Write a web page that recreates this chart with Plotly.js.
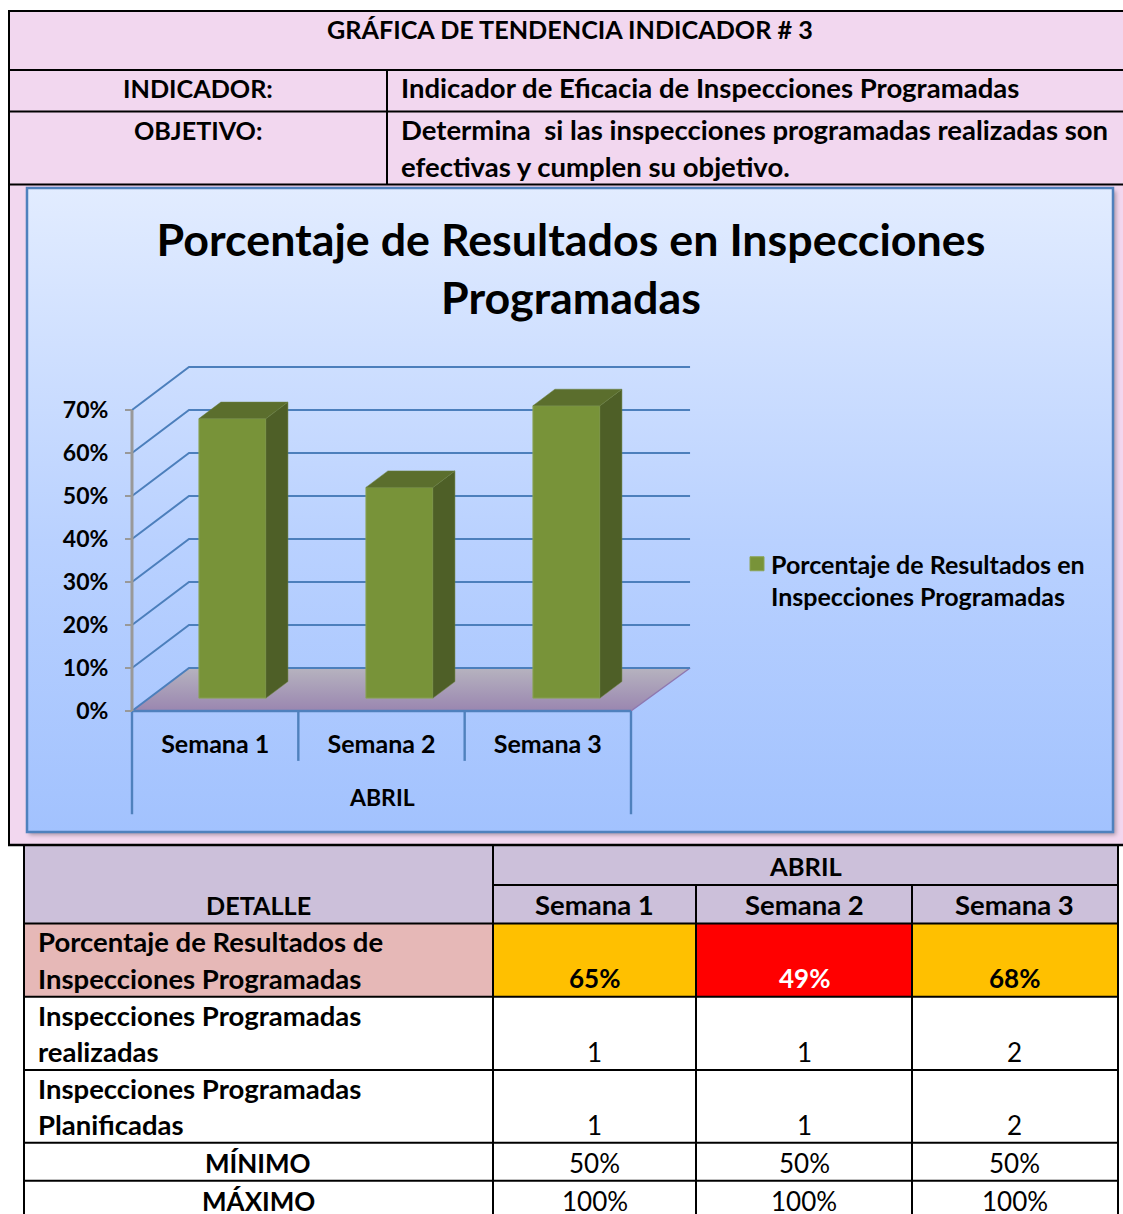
<!DOCTYPE html>
<html><head><meta charset="utf-8">
<script src="https://cdn.plot.ly/plotly-3.0.1.min.js"></script>
<style>html,body{margin:0;padding:0;background:#fff;overflow:hidden}#g{width:1123px;height:1214px}</style>
</head><body><div id="g"></div>
<script>
// ---- data ----
const semanas = ['Semana 1','Semana 2','Semana 3'];
const porcentajes = [0.65,0.49,0.68];
const realizadas = ['1','1','2'];
const planificadas = ['1','1','2'];
const minimos = ['50%','50%','50%'];
const maximos = ['100%','100%','100%'];
const yTicks = [0,0.1,0.2,0.3,0.4,0.5,0.6,0.7];
const serieNombre = 'Porcentaje de Resultados en<br>Inspecciones Programadas';
const tituloGrafico = 'Porcentaje de Resultados en Inspecciones<br>Programadas';
const mes = 'ABRIL';
const celdasColor = ['#ffc000','#ff0000','#ffc000'];
const celdasTexto = ['#000000','#ffffff','#000000'];

// ---- page helpers ----
const W=1123,H=1214, FONT='Lato, Carlito, sans-serif';
const px=x=>x/W, py=y=>1-y/H;
const rect=(x0,y0,x1,y1,fill)=>({type:'rect',xref:'paper',yref:'paper',x0:px(x0),x1:px(x1),y0:py(y0),y1:py(y1),fillcolor:fill,line:{width:0},layer:'below'});
const line=(x0,y0,x1,y1,w,c)=>({type:'line',xref:'paper',yref:'paper',x0:px(x0),x1:px(x1),y0:py(y0),y1:py(y1),line:{color:c||'#000',width:w||2},layer:'below'});
const txt=(t,x,y,size,o,weight,color)=>Object.assign({text:t,xref:'paper',yref:'paper',x:px(x),y:py(y),showarrow:false,xanchor:'center',yanchor:'middle',
  font:{family:FONT,size:size||26,color:color||'#000',weight:weight||700},borderpad:0},o||{});
const left={xanchor:'left'};

// ---- 3D geometry in axis units ----
const xMax=3.355, yMax=0.8, yMin=-0.24, padX=0.03, padY=0.01;
const unitX=499/3, unitY=430;
const wallDx=0.3427, wallDy=0.1;
const barW=0.403, barC=0.604, barStep=1.004, barBase=0.03, barDx=0.132, barDy=0.0384;
const barX=semanas.map((_,i)=>i*barStep+barC);
const xRange=[-padX,xMax+padX], yRange=[yMin-padY,yMax+padY];

const gx=[],gy=[];
yTicks.forEach(v=>{gx.push(0,wallDx,xMax,null);gy.push(v,v+wallDy,v+wallDy,null);});
const sx=[],sy=[],tx=[],ty=[];
porcentajes.forEach((v,i)=>{
  const l=barX[i]-barW/2,r=barX[i]+barW/2,top=barBase+v;
  sx.push(r,r+barDx,r+barDx,r,r,null); sy.push(barBase,barBase+barDy,top+barDy,top,barBase,null);
  tx.push(l,r,r+barDx,l+barDx,l,null); ty.push(top,top,top+barDy,top+barDy,top,null);
});

const base={type:'scatter',mode:'lines',xaxis:'x',yaxis:'y',showlegend:false,hoverinfo:'skip'};
const traces=[
 Object.assign({},base,{x:[0,3,xMax,wallDx,0],y:[0,0,wallDy,wallDy,0],fill:'toself',line:{width:0},
   fillgradient:{type:'vertical',colorscale:[[0,'#9a86b0'],[1,'#b6b3bf']]}}),
 Object.assign({},base,{x:[3,xMax],y:[0,wallDy],line:{color:'#8e78b0',width:1.5}}),
 Object.assign({},base,{x:gx,y:gy,line:{color:'#4c7fbc',width:2}}),
 Object.assign({},base,{x:[0,0,null,1,1,null,2,2,null,3,3,null,0,3],y:[0,yMin,null,0,-0.116,null,0,-0.116,null,0,yMin,null,0,0],line:{color:'#4f81bd',width:2.4}}),
 Object.assign({},base,{x:[0,0],y:[0,0.7],line:{color:'#999999',width:3}}),
 {type:'bar',x:barX,y:porcentajes,base:barBase,width:barW,name:serieNombre,xaxis:'x2',yaxis:'y2',
   marker:{color:'#789339',line:{color:'#8aa356',width:1}},hoverinfo:'skip'},
 {type:'scatter',mode:'lines',x:sx,y:sy,xaxis:'x2',yaxis:'y2',fill:'toself',fillcolor:'#4e5f27',line:{width:0.5,color:'#6d8040'},showlegend:false,hoverinfo:'skip'},
 {type:'scatter',mode:'lines',x:tx,y:ty,xaxis:'x2',yaxis:'y2',fill:'toself',fillcolor:'#5b6e2d',line:{width:0.5,color:'#6d8040'},showlegend:false,hoverinfo:'skip'}
];

// ---- background picture: pink sheet and chart gradient with soft shadow ----
const bgSvg=`<svg xmlns="http://www.w3.org/2000/svg" width="${W}" height="${H}"><defs>
<linearGradient id="a" x1="0" y1="0" x2="0" y2="1"><stop offset="0" stop-color="#e2ecff"/><stop offset="0.55" stop-color="#b9d1ff"/><stop offset="1" stop-color="#a2c2fe"/></linearGradient>
<filter id="b" x="-5%" y="-5%" width="110%" height="110%"><feGaussianBlur stdDeviation="2"/></filter></defs>
<rect x="9" y="11" width="1114" height="834" fill="#f2d7ef"/>
<rect x="29" y="191" width="1087" height="644" fill="#000" fill-opacity="0.3" filter="url(#b)"/>
<rect x="27" y="188" width="1086" height="644" fill="url(#a)"/></svg>`;

// ---- table shapes ----
const colX=[493,696,912,1118];
const shapes=[
 rect(24,846,1118,923.5,'#ccc0da'),
 rect(24,923.5,493,996.7,'#e6b8b7'),
 rect(24,996.7,1118,1214,'#ffffff'),
 ...celdasColor.map((c,i)=>rect(colX[i],923.5,colX[i+1],996.7,c)),
 {type:'rect',xref:'paper',yref:'paper',x0:px(27),x1:px(1113),y0:py(188),y1:py(832),line:{color:'#4f81bd',width:2.5},layer:'below'},
 line(8,11,1123,11), line(9,70,1123,70), line(9,111.5,1123,111.5), line(9,184.5,1123,184.5),
 line(9,11,9,845), line(387,70,387,184.5), line(8,845,1123,845,2.5),
 line(24,846,24,1214), line(493,846,493,1214), line(696,885,696,1214), line(912,885,912,1214), line(1118,846,1118,1214),
 line(493,885,1118,885), line(24,923.5,1118,923.5), line(24,996.7,1118,996.7), line(24,1070,1118,1070), line(24,1142.7,1118,1142.7), line(24,1180.7,1118,1180.7)
];

// ---- table text ----
const colC=[594.5,804,1015];
const CAP=25.2, LOW=27.5;
const ann=[
 txt('GRÁFICA DE TENDENCIA INDICADOR # 3',570,29,25.2),
 txt('INDICADOR:',198,88,CAP),
 txt('Indicador de Eficacia de Inspecciones Programadas',400,88,LOW,left),
 txt('OBJETIVO:',198,130,CAP),
 txt('Determina  si las inspecciones programadas realizadas son',400,130,LOW,left),
 txt('efectivas y cumplen su objetivo.',400,166,LOW,left),
 txt(mes,805,866,25.5),
 txt('DETALLE',258,905,CAP),
 txt('Porcentaje de Resultados de',37,942,LOW,left),
 txt('Inspecciones Programadas',37,978,LOW,left),
 txt('Inspecciones Programadas',37,1015,LOW,left),
 txt('realizadas',37,1051,LOW,left),
 txt('Inspecciones Programadas',37,1088,LOW,left),
 txt('Planificadas',37,1124,LOW,left),
 txt('MÍNIMO',258,1163,26),
 txt('MÁXIMO',258,1201,26),
 {text:mes,xref:'x',yref:'paper',x:1.5,y:py(797),showarrow:false,xanchor:'center',yanchor:'middle',font:{family:FONT,size:23,color:'#000',weight:700}}
];
semanas.forEach((s,i)=>{
  ann.push(txt(s,colC[i],904.5,LOW));
  ann.push(txt(Math.round(porcentajes[i]*100)+'%',colC[i],978,26,null,700,celdasTexto[i]));
  ann.push(txt(realizadas[i],colC[i],1052,26,null,400));
  ann.push(txt(planificadas[i],colC[i],1125,26,null,400));
  ann.push(txt(minimos[i],colC[i],1163,26,null,400));
  ann.push(txt(maximos[i],colC[i],1201,26,null,400));
});

const layout={
 width:W,height:H,margin:{l:0,r:0,t:0,b:0},autosize:false,
 paper_bgcolor:'#ffffff',plot_bgcolor:'rgba(0,0,0,0)',hovermode:false,barmode:'overlay',
 font:{family:FONT,color:'#000'},
 title:{text:tituloGrafico,x:571/W,xanchor:'center',y:py(256),yanchor:'middle',font:{family:FONT,size:44.8,weight:700,color:'#000'}},
 images:[{source:'data:image/svg+xml,'+encodeURIComponent(bgSvg),xref:'paper',yref:'paper',x:0,y:1,sizex:1,sizey:1,xanchor:'left',yanchor:'top',sizing:'stretch',layer:'below'}],
 shapes:shapes,annotations:ann,
 xaxis:{domain:[px(132-padX*unitX),px(132+(xMax+padX)*unitX)],range:xRange,anchor:'free',position:py(711),showgrid:false,zeroline:false,showline:false,ticks:'',
   tickmode:'array',tickvals:semanas.map((_,i)=>i+0.5),ticktext:semanas,ticklabelstandoff:16,
   tickfont:{family:FONT,size:25,weight:700,color:'#000'}},
 yaxis:{domain:[py(711-yRange[0]*unitY),py(711-yRange[1]*unitY)],range:yRange,anchor:'free',position:px(132),showgrid:false,zeroline:false,showline:false,
   ticks:'outside',ticklen:7,tickwidth:2.5,tickcolor:'#999999',tickmode:'array',tickvals:yTicks,tickformat:'.0%',
   ticklabelstandoff:12,tickfont:{family:FONT,size:23,weight:700,color:'#000'}},
 xaxis2:{overlaying:'x',anchor:'y2',range:xRange,visible:false},
 yaxis2:{overlaying:'y',anchor:'x2',range:yRange,visible:false},
 showlegend:true,
 legend:{x:px(731),y:py(541),xanchor:'left',yanchor:'top',valign:'top',bgcolor:'rgba(0,0,0,0)',borderwidth:0,font:{family:FONT,size:25,weight:700,color:'#000'},itemwidth:30,tracegroupgap:0}
};
Plotly.newPlot('g',traces,layout,{displayModeBar:false,responsive:false,staticPlot:true}).then(()=>{
  // legend key: slightly larger square sitting closer to its text, as in the original
  document.querySelectorAll('.legend .legendsymbols').forEach(g=>g.setAttribute('transform','translate(6,0)'));
  document.querySelectorAll('.legend .legendpoints path').forEach(p=>p.setAttribute('d','M7,7H-7V-7H7Z'));
});
</script></body></html>
